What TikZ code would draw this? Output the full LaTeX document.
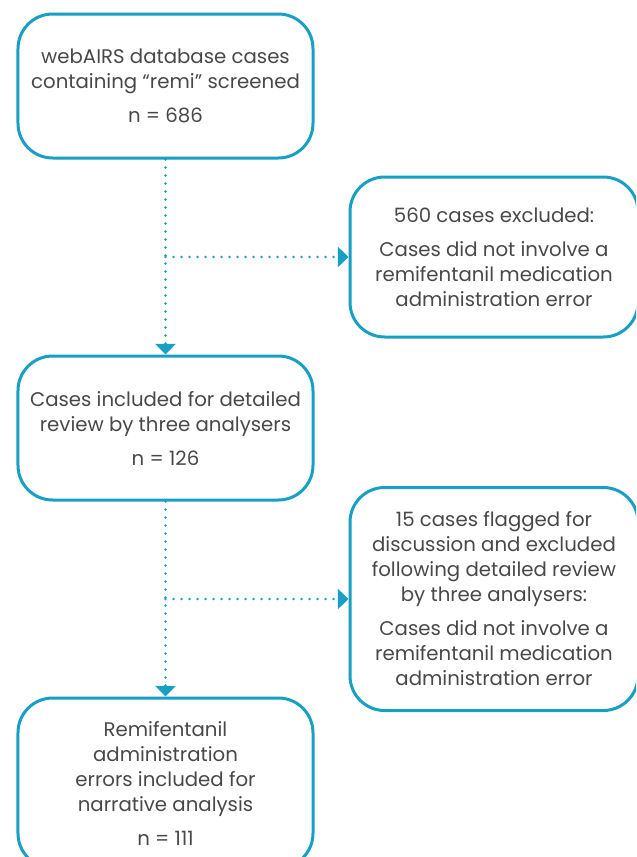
\documentclass[tikz,border=0pt]{standalone}
\usepackage{fontspec}
\setmainfont{Poppins}
\usetikzlibrary{positioning,arrows.meta}
\definecolor{flowcyan}{RGB}{23,159,196}
\definecolor{flowtext}{RGB}{72,72,72}

\begin{document}
\begin{tikzpicture}[stagebox/.style={rectangle, draw=flowcyan, line width=2.25pt, rounded corners=26pt, align=center, text=flowtext, font=\fontsize{14.8pt}{18.75pt}\selectfont, minimum width=221.25pt, minimum height=108pt, inner sep=0pt},sidebox/.style={stagebox, minimum width=216pt},flow/.style={draw=flowcyan, line width=2.2pt, line cap=round, dash pattern=on 0pt off 6pt, -{Triangle[width=15pt,length=8pt]}}]
                \path[use as bounding box, clip] (-124.125pt,64.5pt) rectangle (352.875pt,-578.25pt);
                \node[stagebox] (screened) {webAIRS database cases\\containing “remi” screened\\[6.75pt]n = 686};
                \node[stagebox, below=146.25pt of screened] (included) {Cases included for detailed\\review by three analysers\\[6.75pt]n = 126};
                \node[stagebox, below=146.25pt of included, minimum height=127.5pt] (narrative) {Remifentanil\\administration\\errors included for\\narrative analysis\\[6.75pt]n = 111};
                \coordinate[below=73.125pt of screened] (branchA);
                \coordinate[below=73.125pt of included] (branchB);
                \node[sidebox, right=137.25pt of branchA, minimum height=120pt] (excludedA) {560 cases excluded:\\[6.75pt]Cases did not involve a\\remifentanil medication\\administration error};
                \node[sidebox, right=137.25pt of branchB, minimum height=167.25pt] (excludedB) {15 cases flagged for\\discussion and excluded\\following detailed review\\by three analysers:\\[6.75pt]Cases did not involve a\\remifentanil medication\\administration error};
                \draw[flow] (screened) -- (included);
                \draw[flow] (branchA) -- (excludedA);
                \draw[flow] (included) -- (narrative);
                \draw[flow] (branchB) -- (excludedB);
            \end{tikzpicture}
\end{document}
